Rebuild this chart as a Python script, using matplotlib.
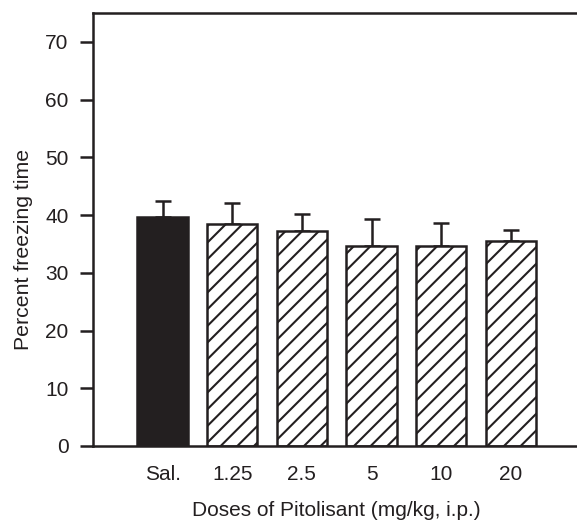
import numpy as np
import matplotlib.pyplot as plt

plt.rcParams['font.family'] = ['Liberation Sans', 'DejaVu Sans']
plt.rcParams['hatch.linewidth'] = 1.5

doses = ['Sal.', '1.25', '2.5', '5', '10', '20']
freezing = [39.6, 38.5, 37.2, 34.7, 34.6, 35.5]
sem = [2.8, 3.6, 2.9, 4.6, 4.0, 1.9]

fig = plt.figure(figsize=(5.77, 5.21), dpi=100)
ax = fig.add_axes([0.161, 0.144, 0.845, 0.831])

x = np.arange(1, len(doses) + 1)
ink = '#231f20'
colors = [ink] + ['white'] * (len(doses) - 1)
hatches = [''] + ['//'] * (len(doses) - 1)

bars = ax.bar(x, freezing, width=0.72, color=colors, edgecolor=ink, linewidth=1.8, zorder=2)
for b, h in zip(bars, hatches):
    b.set_hatch(h)
ax.errorbar(x, freezing, yerr=[np.zeros(len(sem)), sem], fmt='none', ecolor=ink,
            elinewidth=1.8, capsize=5.6, capthick=1.8, zorder=1)

ax.set_xlim(0, 7)
ax.set_ylim(0, 75)
ax.set_yticks(range(0, 80, 10))
ax.set_xticks(x)
ax.set_xticklabels(doses)
ax.tick_params(axis='x', length=0, pad=14, labelsize=15, colors=ink)
ax.tick_params(axis='y', length=9.5, width=1.8, pad=8, labelsize=15, colors=ink)
for s in ax.spines.values():
    s.set_linewidth(1.8)
    s.set_color(ink)

ax.set_xlabel('Doses of Pitolisant (mg/kg, i.p.)', fontsize=15, labelpad=12, color=ink)
ax.set_ylabel('Percent freezing time', fontsize=15.3, color=ink)
ax.yaxis.set_label_coords(-0.123, 0.455)

fig.savefig('out.png', dpi=100)
